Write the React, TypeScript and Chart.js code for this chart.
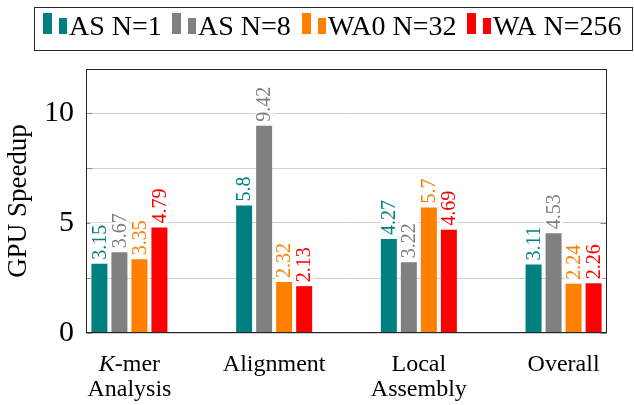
import React, { useEffect, useRef } from "react";
import { Chart, registerables } from "chart.js";

Chart.register(...registerables);

// ---------- data ----------
const categories: string[][] = [["K-mer", "Analysis"], ["Alignment"], ["Local", "Assembly"], ["Overall"]];
const seriesNames = ["AS N=1", "AS N=8", "WA0 N=32", "WA N=256"];
const asN1 = [3.15, 5.8, 4.27, 3.11];
const asN8 = [3.67, 9.42, 3.22, 4.53];
const wa0N32 = [3.35, 2.32, 5.7, 2.24];
const waN256 = [4.79, 2.13, 4.69, 2.26];
const seriesColors = ["#008080", "#808080", "#ff8000", "#ff0000"];
const yTicks = [0, 2.5, 5, 7.5, 10];
const yTickLabels = [0, 5, 10];
const yAxisTitle = "GPU Speedup";

const FONT = "'Liberation Serif', 'Times New Roman', serif";
const X_FONT_SIZE = 24;
const X_LINE_HEIGHT = 1.04;
const X_PAD = 19;

const framePlugin = {
  id: "frameAndTicks",
  afterDatasetsDraw(chart: any) {
    const { ctx, chartArea, scales } = chart;
    const left = Math.round(chartArea.left) + 0.5;
    const right = Math.round(chartArea.right) - 0.5;
    const top = Math.round(chartArea.top) + 0.5;
    const bottom = Math.round(chartArea.bottom) - 0.5;
    ctx.save();
    ctx.lineWidth = 1;
    ctx.strokeStyle = "#8c8c8c";
    ctx.beginPath();
    for (const t of yTicks) {
      const py = Math.round(scales.y.getPixelForValue(t)) + 0.5;
      ctx.moveTo(left, py);
      ctx.lineTo(left + 6, py);
      ctx.moveTo(right - 6, py);
      ctx.lineTo(right, py);
    }
    ctx.stroke();
    ctx.strokeStyle = "#262626";
    ctx.strokeRect(left, top, right - left, bottom - top);
    ctx.restore();
  },
};

const dataLabelPlugin = {
  id: "barValueLabels",
  afterDatasetsDraw(chart: any) {
    const { ctx } = chart;
    const size = 20;
    ctx.save();
    ctx.font = `${size}px ${FONT}`;
    ctx.textAlign = "left";
    ctx.textBaseline = "middle";
    chart.data.datasets.forEach((ds: any, di: number) => {
      const meta = chart.getDatasetMeta(di);
      meta.data.forEach((bar: any, i: number) => {
        const text = String(ds.data[i].y);
        const w = ctx.measureText(text).width;
        ctx.save();
        ctx.translate(bar.x, bar.y - 3);
        ctx.rotate(-Math.PI / 2);
        ctx.fillStyle = "#ffffff";
        ctx.fillRect(0, -size / 2 + 1, w + 3, size - 2);
        ctx.fillStyle = ds.backgroundColor;
        ctx.fillText(text, 1, 1);
        ctx.restore();
      });
    });
    ctx.restore();
  },
};

// Draws the first category label with an italic "K" (as in the source figure).
const italicKPlugin = {
  id: "italicKLabel",
  afterDraw(chart: any) {
    const { ctx, scales, chartArea } = chart;
    const lh = X_FONT_SIZE * X_LINE_HEIGHT;
    const cx = scales.x.getPixelForValue(0);
    const y1 = chartArea.bottom + X_PAD + lh / 2;
    const [first, second] = categories[0];
    const head = first.charAt(0);
    const rest = first.slice(1);
    ctx.save();
    ctx.fillStyle = "#000000";
    ctx.textBaseline = "middle";
    ctx.textAlign = "left";
    ctx.font = `italic ${X_FONT_SIZE}px ${FONT}`;
    const wHead = ctx.measureText(head).width;
    ctx.font = `${X_FONT_SIZE}px ${FONT}`;
    const wRest = ctx.measureText(rest).width;
    const start = cx - (wHead + wRest) / 2;
    ctx.font = `italic ${X_FONT_SIZE}px ${FONT}`;
    ctx.fillText(head, start, y1);
    ctx.font = `${X_FONT_SIZE}px ${FONT}`;
    ctx.fillText(rest, start + wHead, y1);
    ctx.textAlign = "center";
    ctx.fillText(second, cx, y1 + lh);
    ctx.restore();
  },
};

const legendPlugin = {
  id: "boxLegend",
  afterDraw(chart: any) {
    const { ctx } = chart;
    const itemX = [43, 172, 302, 467];
    ctx.save();
    ctx.lineWidth = 1;
    ctx.strokeStyle = "#262626";
    ctx.strokeRect(34.5, 7.5, 598, 43);
    ctx.font = `28px ${FONT}`;
    ctx.textBaseline = "alphabetic";
    ctx.textAlign = "left";
    chart.data.datasets.forEach((ds: any, i: number) => {
      const x = itemX[i];
      ctx.fillStyle = ds.backgroundColor;
      ctx.fillRect(x, 13, 9, 21);
      ctx.fillRect(x + 16, 18, 8, 16);
      ctx.fillStyle = "#000000";
      ctx.fillText(ds.label, x + 26, 35);
    });
    ctx.restore();
  },
};

export default function App() {
  const ref = useRef<HTMLCanvasElement>(null);
  useEffect(() => {
    document.body.style.margin = "0";
    const canvas = ref.current!;
    const values = [asN1, asN8, wa0N32, waN256];
    const datasets = seriesNames.map((name, s) => ({
      label: name,
      data: values[s].map((v, i) => ({ x: i, y: v })),
      backgroundColor: seriesColors[s],
      borderWidth: 0,
      categoryPercentage: 0.553,
      barPercentage: 0.8,
    }));
    const chart = new Chart(canvas, {
      type: "bar",
      data: { datasets } as any,
      options: {
        responsive: false,
        animation: false,
        devicePixelRatio: 1,
        layout: { padding: { top: 69, right: 27, left: 0, bottom: 0 } },
        plugins: {
          legend: { display: false },
          tooltip: { enabled: false },
          title: { display: false },
        },
        scales: {
          x: {
            type: "linear",
            min: -0.3,
            max: 3.3,
            offset: false,
            afterBuildTicks: (s: any) => {
              s.ticks = categories.map((_, i) => ({ value: i }));
            },
            afterFit: (s: any) => {
              s.height = 72;
            },
            ticks: {
              autoSkip: false,
              maxRotation: 0,
              minRotation: 0,
              padding: X_PAD,
              color: (c: any) => (c.index === 0 ? "rgba(0,0,0,0)" : "#000000"),
              font: { family: FONT, size: X_FONT_SIZE, lineHeight: X_LINE_HEIGHT },
              callback: (v: any) => categories[v as number] ?? "",
            },
            grid: { display: false, drawTicks: false },
            border: { display: false },
          },
          y: {
            type: "linear",
            min: 0,
            max: 12,
            afterBuildTicks: (s: any) => {
              s.ticks = yTicks.map((v) => ({ value: v }));
            },
            afterFit: (s: any) => {
              s.width = 86;
            },
            ticks: {
              autoSkip: false,
              padding: 12,
              color: "#000000",
              font: { family: FONT, size: 30 },
              callback: (v: any) => (yTickLabels.includes(v as number) ? String(v) : ""),
            },
            grid: { color: "#d0d0d0", lineWidth: 1, drawTicks: false },
            border: { display: false },
            title: {
              display: true,
              text: yAxisTitle,
              color: "#000000",
              font: { family: FONT, size: 27 },
              padding: { top: 3, bottom: 0 },
            },
          },
        },
      } as any,
      plugins: [framePlugin, dataLabelPlugin, italicKPlugin, legendPlugin],
    });
    return () => chart.destroy();
  }, []);
  return (
    <div style={{ width: 634, height: 405 }}>
      <canvas ref={ref} width={634} height={405} />
    </div>
  );
}
